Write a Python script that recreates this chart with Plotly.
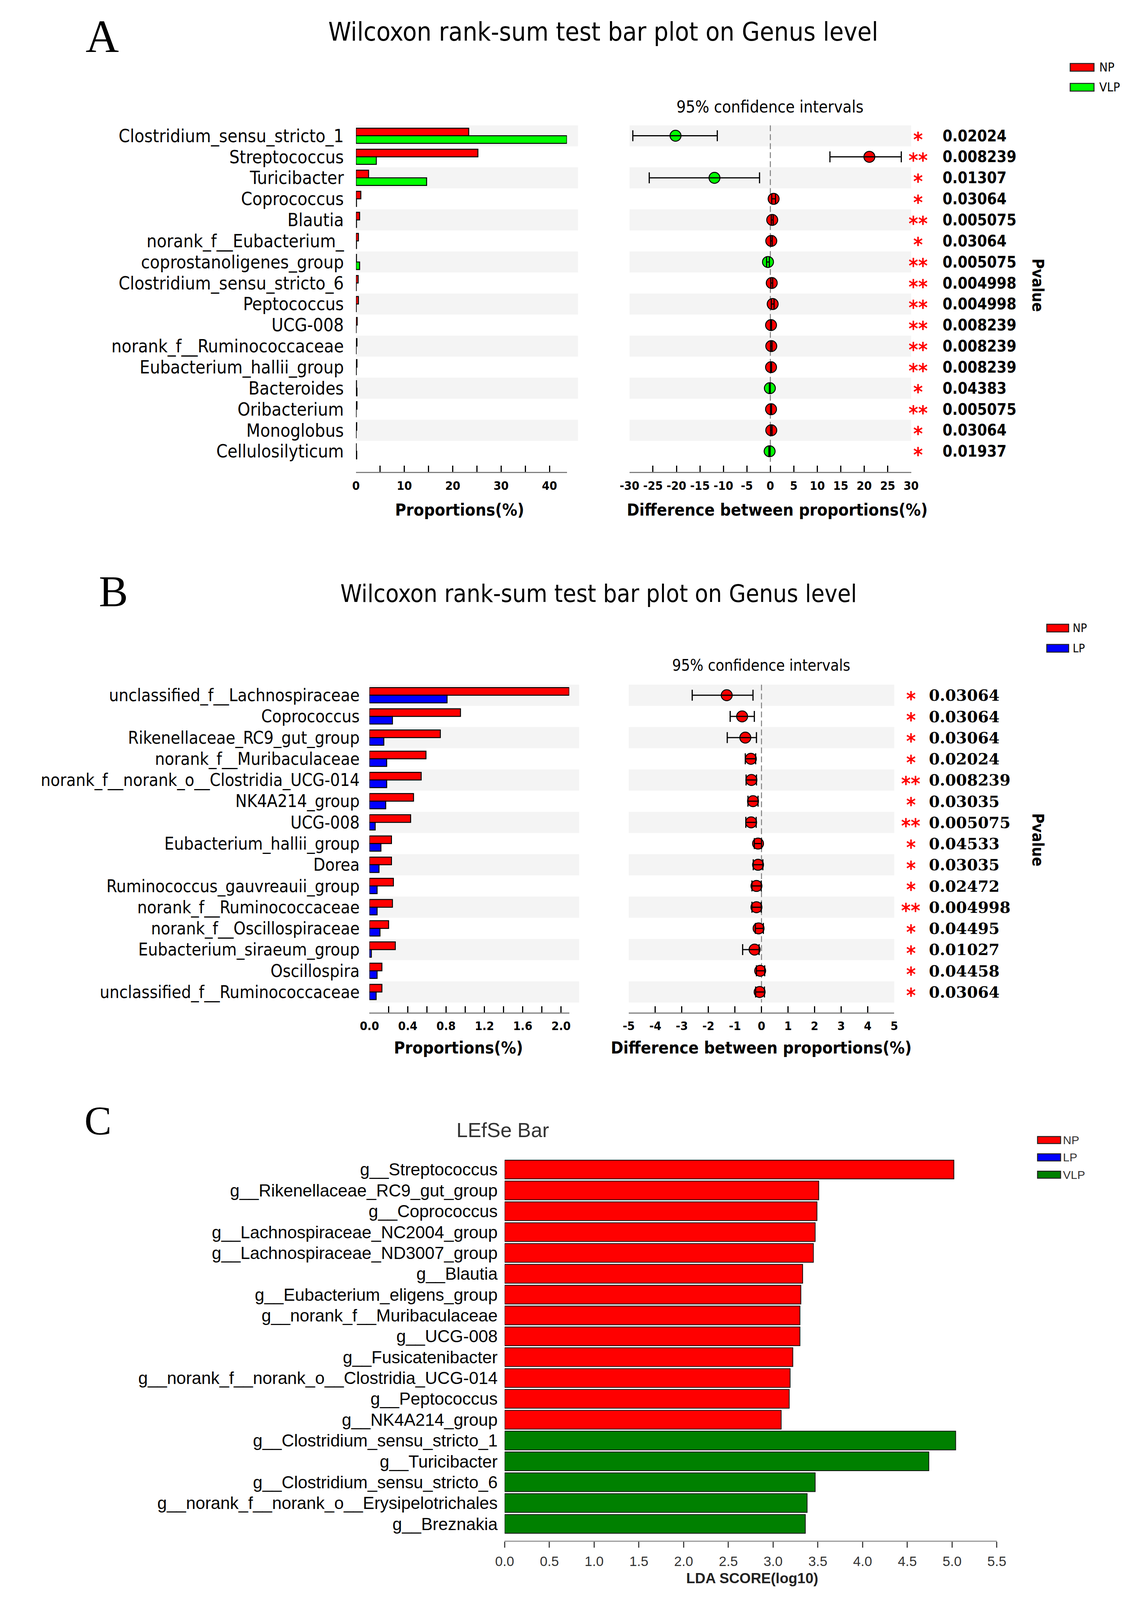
import plotly.graph_objects as go

# Reference canvas is 2907 x 4982; the browser viewport is only 4096 tall,
# so the figure is laid out in reference fractions and drawn 4096 tall.
W, H_REF = 2907, 4982
H_FIG = 4096
S = H_FIG / H_REF  # vertical pixel scale


def fx(px):
    return px / W


def fy(py):
    return 1 - py / H_REF


CF = "DejaVu Sans Condensed, Liberation Sans Narrow, DejaVu Sans, sans-serif"
SERIF = "Liberation Serif, Times New Roman, serif"
DSERIF = "DejaVu Serif, serif"
ARIAL = "Liberation Sans, Arial, sans-serif"

RED = "#FF0000"
LIME = "#00FF00"
BLUE = "#0000FF"
DGREEN = "#008000"
BAND = "#F4F4F4"

# ---------------- Panel A data (NP vs VLP) ----------------
genera_A = ["Clostridium_sensu_stricto_1", "Streptococcus", "Turicibacter", "Coprococcus",
            "Blautia", "norank_f__Eubacterium_", "coprostanoligenes_group",
            "Clostridium_sensu_stricto_6", "Peptococcus", "UCG-008",
            "norank_f__Ruminococcaceae", "Eubacterium_hallii_group", "Bacteroides",
            "Oribacterium", "Monoglobus", "Cellulosilyticum"]
np_A = [23.3, 25.2, 2.6, 1.0, 0.75, 0.5, 0.1, 0.45, 0.5, 0.25, 0.2, 0.2, 0.1, 0.2, 0.15, 0.05]
vlp_A = [43.6, 4.2, 14.6, 0.1, 0.1, 0.1, 0.75, 0.05, 0.05, 0.02, 0.02, 0.05, 0.2, 0.02, 0.02, 0.15]
diff_A = [-20.2, 21.1, -11.9, 0.7, 0.4, 0.2, -0.5, 0.3, 0.5, 0.15, 0.2, 0.15, -0.1, 0.15, 0.2, -0.15]
ci_low_A = [-29.3, 12.7, -25.8, 0.3, 0.2, 0.05, -0.8, 0.1, 0.2, 0.05, 0.05, 0.05, -0.2, 0.05, 0.05, -0.3]
ci_high_A = [-11.3, 27.9, -2.3, 1.1, 0.6, 0.4, -0.2, 0.5, 0.8, 0.25, 0.35, 0.25, -0.02, 0.25, 0.35, -0.05]
higher_A = ["VLP", "NP", "VLP", "NP", "NP", "NP", "VLP", "NP", "NP", "NP", "NP", "NP",
            "VLP", "NP", "NP", "VLP"]
p_A = [0.02024, 0.008239, 0.01307, 0.03064, 0.005075, 0.03064, 0.005075, 0.004998,
       0.004998, 0.008239, 0.008239, 0.008239, 0.04383, 0.005075, 0.03064, 0.01937]
p_text_A = ["0.02024", "0.008239", "0.01307", "0.03064", "0.005075", "0.03064", "0.005075",
            "0.004998", "0.004998", "0.008239", "0.008239", "0.008239", "0.04383",
            "0.005075", "0.03064", "0.01937"]
diff_ticks_A = [-30, -25, -20, -15, -10, -5, 0, 5, 10, 15, 20, 25, 30]

# ---------------- Panel B data (NP vs LP) ----------------
genera_B = ["unclassified_f__Lachnospiraceae", "Coprococcus", "Rikenellaceae_RC9_gut_group",
            "norank_f__Muribaculaceae", "norank_f__norank_o__Clostridia_UCG-014",
            "NK4A214_group", "UCG-008", "Eubacterium_hallii_group", "Dorea",
            "Ruminococcus_gauvreauii_group", "norank_f__Ruminococcaceae",
            "norank_f__Oscillospiraceae", "Eubacterium_siraeum_group", "Oscillospira",
            "unclassified_f__Ruminococcaceae"]
np_B = [2.085, 0.95, 0.74, 0.59, 0.54, 0.46, 0.43, 0.23, 0.23, 0.25, 0.24, 0.20, 0.27, 0.13, 0.13]
lp_B = [0.81, 0.24, 0.15, 0.18, 0.18, 0.17, 0.06, 0.12, 0.10, 0.08, 0.08, 0.11, 0.02, 0.08, 0.07]
diff_B = [-1.31, -0.73, -0.61, -0.40, -0.38, -0.32, -0.39, -0.13, -0.13, -0.19, -0.19, -0.11,
          -0.26, -0.05, -0.07]
ci_low_B = [-2.61, -1.18, -1.29, -0.61, -0.58, -0.51, -0.59, -0.27, -0.31, -0.36, -0.36, -0.23,
            -0.71, -0.19, -0.22]
ci_high_B = [-0.32, -0.27, -0.19, -0.22, -0.19, -0.13, -0.20, 0.0, 0.05, -0.01, -0.01, 0.07,
             -0.09, 0.12, 0.11]
higher_B = ["NP", "NP", "NP", "NP", "NP", "NP", "NP", "NP", "NP", "NP", "NP", "NP", "NP", "NP", "NP"]
p_B = [0.03064, 0.03064, 0.03064, 0.02024, 0.008239, 0.03035, 0.005075, 0.04533, 0.03035,
       0.02472, 0.004998, 0.04495, 0.01027, 0.04458, 0.03064]
p_text_B = ["0.03064", "0.03064", "0.03064", "0.02024", "0.008239", "0.03035", "0.005075",
            "0.04533", "0.03035", "0.02472", "0.004998", "0.04495", "0.01027", "0.04458",
            "0.03064"]
diff_ticks_B = [-5, -4, -3, -2, -1, 0, 1, 2, 3, 4, 5]

# ---------------- Panel C data (LEfSe) ----------------
features_C = ["g__Streptococcus", "g__Rikenellaceae_RC9_gut_group", "g__Coprococcus",
              "g__Lachnospiraceae_NC2004_group", "g__Lachnospiraceae_ND3007_group",
              "g__Blautia", "g__Eubacterium_eligens_group", "g__norank_f__Muribaculaceae",
              "g__UCG-008", "g__Fusicatenibacter", "g__norank_f__norank_o__Clostridia_UCG-014",
              "g__Peptococcus", "g__NK4A214_group", "g__Clostridium_sensu_stricto_1",
              "g__Turicibacter", "g__Clostridium_sensu_stricto_6",
              "g__norank_f__norank_o__Erysipelotrichales", "g__Breznakia"]
lda_C = [5.02, 3.51, 3.49, 3.47, 3.45, 3.33, 3.31, 3.30, 3.30, 3.22, 3.19, 3.18, 3.09,
         5.04, 4.74, 3.47, 3.38, 3.36]
group_C = ["NP", "NP", "NP", "NP", "NP", "NP", "NP", "NP", "NP", "NP", "NP", "NP", "NP",
           "VLP", "VLP", "VLP", "VLP", "VLP"]
legend_C = ["NP", "LP", "VLP"]

fig = go.Figure()
shapes = []
annotations = []
layout_axes = {}


def ann(text, x, y, size, family=CF, color="black", weight="normal", xanchor="center",
        yanchor="middle", yref="paper", textangle=0, yshift=0):
    annotations.append(dict(text=text, x=x, y=y, xref="paper", yref=yref, showarrow=False,
                            xanchor=xanchor, yanchor=yanchor, textangle=textangle,
                            yshift=yshift,
                            font=dict(family=family, size=size, color=color, weight=weight)))


TL = round(20 * S)


def wilcoxon_panel(ax_l, ax_r, genera, g1, g2, g2_name, colors, diff, lo, hi, higher, ptxt, pvals,
                   dticks, geo):
    n = len(genera)
    rows = list(range(n))
    yb = (geo["axis_px"] - geo["row0"]) / geo["pitch"]
    ydom = [fy(geo["axis_px"]), fy(geo["row0"] - geo["pitch"] / 2)]
    xl, xr = "x" + ax_l, "x" + ax_r
    yl, yr = "y" + ax_l, "y" + ax_r
    kl = "xaxis" + ax_l
    kr = "xaxis" + ax_r
    tickfont = dict(family=CF, size=31, color="black", weight="bold")
    layout_axes[kl] = dict(domain=[fx(geo["lx"][0]), fx(geo["lx"][1])], range=[0, max(g1 + g2)],
                           anchor=yl, showgrid=False, zeroline=False, showline=True,
                           linecolor="#808080", linewidth=3, ticks="inside", ticklen=TL,
                           tickwidth=3, tickcolor="black", dtick=geo["ldtick"], tick0=0,
                           tickformat=geo["lfmt"], tickfont=tickfont, ticklabelstandoff=5,
                           tickangle=0,
                           minor=dict(dtick=geo["ldtick"] / 2, ticks="inside", ticklen=TL,
                                      tickwidth=3, tickcolor="black"))
    layout_axes["yaxis" + ax_l] = dict(domain=ydom, range=[yb, -0.5], anchor=xl, showgrid=False,
                                       zeroline=False, showline=False, tickvals=rows,
                                       ticktext=genera, ticks="",
                                       ticklabelstandoff=geo["standoff"],
                                       tickfont=dict(family=CF, size=geo["lblsize"], color="black"))
    layout_axes[kr] = dict(domain=[fx(geo["rx"][0]), fx(geo["rx"][1])], range=geo["rrange"],
                           anchor=yr, showgrid=False, zeroline=False, showline=True,
                           linecolor="#808080", linewidth=3, ticks="inside", ticklen=TL,
                           tickwidth=3, tickcolor="black", tickmode="array", tickvals=dticks,
                           ticktext=[str(v) for v in dticks], tickangle=0,
                           tickfont=tickfont, ticklabelstandoff=5)
    layout_axes["yaxis" + ax_r] = dict(domain=ydom, range=[yb, -0.5], anchor=xr, showgrid=False,
                                       zeroline=False, showline=False, showticklabels=False,
                                       ticks="")
    # background bands
    for i in range(0, n, 2):
        shapes.append(dict(type="rect", xref="paper", yref=yl, x0=fx(geo["lx"][0]),
                           x1=fx(geo["lband"]), y0=i - 0.5, y1=i + 0.5, fillcolor=BAND,
                           line=dict(width=0), layer="below"))
        shapes.append(dict(type="rect", xref="paper", yref=yr, x0=fx(geo["rx"][0]),
                           x1=fx(geo["rx"][1]), y0=i - 0.5, y1=i + 0.5, fillcolor=BAND,
                           line=dict(width=0), layer="below"))
    # zero line
    shapes.append(dict(type="line", xref=xr, yref=yr, x0=0, x1=0, y0=-0.5, y1=n - 0.5,
                       line=dict(color="#808080", width=2.5, dash="15px,8px"), layer="below"))
    # bars
    fig.add_trace(go.Bar(y=rows, x=g1, orientation="h", offset=-0.36, width=0.36,
                         marker=dict(color=colors["NP"], line=dict(color="black", width=2.5)),
                         xaxis=xl, yaxis=yl, showlegend=False))
    fig.add_trace(go.Bar(y=rows, x=g2, orientation="h", offset=0.0, width=0.36,
                         marker=dict(color=colors[g2_name], line=dict(color="black", width=2.5)),
                         xaxis=xl, yaxis=yl, showlegend=False))
    # CI points
    fig.add_trace(go.Scatter(x=diff, y=rows, mode="markers",
                             marker=dict(size=geo["msize"], color=[colors[h] for h in higher],
                                         line=dict(color="black", width=2.5)),
                             xaxis=xr, yaxis=yr, showlegend=False))
    fig.add_trace(go.Scatter(x=diff, y=rows, mode="markers",
                             marker=dict(size=1, color="rgba(0,0,0,0)"),
                             error_x=dict(type="data", symmetric=False,
                                          array=[h - d for h, d in zip(hi, diff)],
                                          arrayminus=[d - l for d, l in zip(diff, lo)],
                                          color="black", thickness=3, width=round(17 * S)),
                             xaxis=xr, yaxis=yr, showlegend=False))
    # p-values
    for i, (pt, pv) in enumerate(zip(ptxt, pvals)):
        star = "**" if pv < 0.01 else "*"
        ann(star, fx(geo["starx"]), i, 52, family=CF, color=RED, weight="bold", yref=yr,
            yshift=-9)
        ann(pt, fx(geo["px"]), i, geo["psize"], family=geo["pfont"], weight="bold",
            xanchor="left", yref=yr)


colors_A = {"NP": RED, "VLP": LIME}
colors_B = {"NP": RED, "LP": BLUE}

geoA = dict(row0=413, pitch=65.5, axis_px=1460, lx=[893, 1442], lband=1471, rx=[1605, 2338],
            rrange=[-30, 30], ldtick=10, lfmt="d", standoff=30, lblsize=46, msize=28,
            starx=2356, px=2418, psize=40, pfont=CF)
geoB = dict(row0=2155, pitch=66, axis_px=3143, lx=[928, 1448], lband=1474, rx=[1603, 2294],
            rrange=[-5, 5], ldtick=0.4, lfmt=".1f", standoff=24, lblsize=44, msize=28,
            starx=2337, px=2382, psize=40, pfont=DSERIF)

wilcoxon_panel("", "2", genera_A, np_A, vlp_A, "VLP", colors_A, diff_A, ci_low_A, ci_high_A,
               higher_A, p_text_A, p_A, diff_ticks_A, geoA)
wilcoxon_panel("3", "4", genera_B, np_B, lp_B, "LP", colors_B, diff_B, ci_low_B, ci_high_B,
               higher_B, p_text_B, p_B, diff_ticks_B, geoB)

# titles, labels, legends for A and B
ann("A", fx(232), fy(104), 118, family=SERIF)
ann("Wilcoxon rank-sum test bar plot on Genus level", fx(1536), fy(90), 66)
ann("95% confidence intervals", fx(1971), fy(323), 42)
ann("Proportions(%)", fx(1163), fy(1577), 43, weight="bold")
ann("Difference between proportions(%)", fx(1990), fy(1577), 43, weight="bold")
ann("Pvalue", fx(2668), fy(878), 40, weight="bold", textangle=90)

ann("B", fx(262), fy(1832), 112, family=SERIF)
ann("Wilcoxon rank-sum test bar plot on Genus level", fx(1525), fy(1838), 62)
ann("95% confidence intervals", fx(1948), fy(2062), 40)
ann("Proportions(%)", fx(1160), fy(3252), 43, weight="bold")
ann("Difference between proportions(%)", fx(1948), fy(3252), 43, weight="bold")
ann("Pvalue", fx(2668), fy(2605), 40, weight="bold", textangle=90)


def legend_box(x0, x1, yc, h, color, label, tx, size, family, tcolor):
    shapes.append(dict(type="rect", xref="paper", yref="paper", x0=fx(x0), x1=fx(x1),
                       y0=fy(yc + h / 2), y1=fy(yc - h / 2), fillcolor=color,
                       line=dict(color="#222222", width=2.5)))
    ann(label, fx(tx), fy(yc), size, family=family, color=tcolor, xanchor="left")


legend_box(2752, 2814, 200, 24, colors_A["NP"], "NP", 2826, 32, CF, "black")
legend_box(2752, 2814, 262, 24, colors_A["VLP"], "VLP", 2826, 32, CF, "black")
legend_box(2691, 2748, 1946, 24, colors_B["NP"], "NP", 2756, 30, CF, "black")
legend_box(2691, 2748, 2009, 24, colors_B["LP"], "LP", 2756, 30, CF, "black")

# ---------------- Panel C ----------------
colors_C = {"NP": RED, "LP": BLUE, "VLP": DGREEN}
rows_C = list(range(len(features_C)))
c_row0, c_pitch, c_axis = 3632, 64.9, 4787
layout_axes["xaxis5"] = dict(domain=[fx(1280), fx(2561)], range=[0, 5.5], anchor="y5",
                             showgrid=False, zeroline=False, showline=True, linecolor="#9a9a9a",
                             linewidth=3, ticks="outside", ticklen=round(18 * S), tickwidth=3,
                             tickcolor="#444444", dtick=0.5, tick0=0, tickformat=".1f",
                             tickangle=0,
                             tickfont=dict(family=ARIAL, size=35, color="#333333"),
                             ticklabelstandoff=5)
layout_axes["yaxis5"] = dict(domain=[fy(c_axis), fy(c_row0 - c_pitch / 2)],
                             range=[(c_axis - c_row0) / c_pitch, -0.5], anchor="x5",
                             showgrid=False, zeroline=False, showline=False, tickvals=rows_C,
                             ticktext=features_C, ticks="", ticklabelstandoff=17,
                             tickfont=dict(family=ARIAL, size=44, color="black"))
fig.add_trace(go.Bar(y=rows_C, x=lda_C, orientation="h", width=0.9,
                     marker=dict(color=[colors_C[g] for g in group_C],
                                 line=dict(color="#111111", width=2)),
                     xaxis="x5", yaxis="y5", showlegend=False))

ann("C", fx(221), fy(3479), 104, family=SERIF)
ann("LEfSe Bar", fx(1275), fy(3509), 52, family=ARIAL, color="#333333")
ann("LDA SCORE(log10)", fx(1924), fy(4905), 37, family=ARIAL, color="#222222", weight="bold")
for g, yc in zip(legend_C, [3540, 3594, 3648]):
    legend_box(2667, 2727, yc, 22, colors_C[g], g, 2731, 30, ARIAL, "#333333")

fig.update_layout(width=W, height=H_FIG, margin=dict(l=0, r=0, t=0, b=0), paper_bgcolor="white",
                  plot_bgcolor="rgba(0,0,0,0)", barmode="overlay", showlegend=False,
                  shapes=shapes, annotations=annotations, **layout_axes)

fig.write_html("out.html")
